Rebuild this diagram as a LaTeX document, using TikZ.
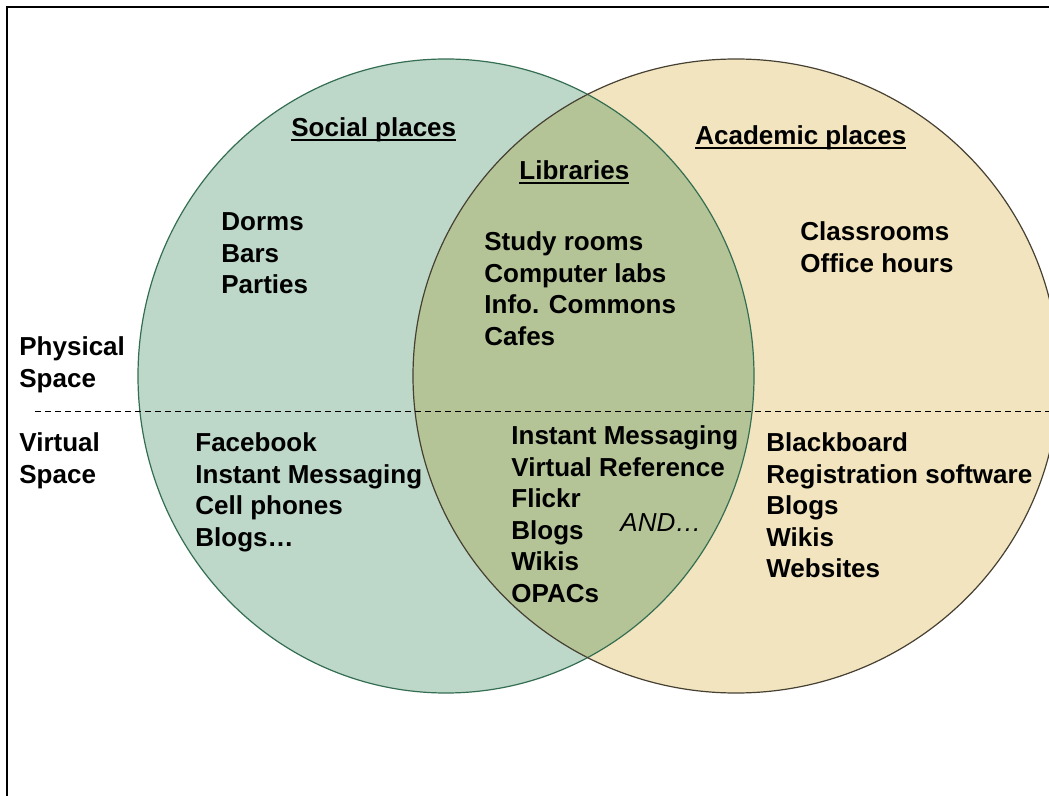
\documentclass[tikz,border=0pt]{standalone}
\usepackage{fontspec}
\setmainfont{Liberation Sans}
\usepackage{tikz}

\definecolor{socialfill}{RGB}{189,215,201}
\definecolor{socialline}{RGB}{52,110,82}
\definecolor{acadfill}{RGB}{241,228,191}
\definecolor{acadline}{RGB}{70,64,50}
\definecolor{libfill}{RGB}{180,196,151}

\newsavebox\ulsave
\newcommand{\ulbox}[1]{\sbox\ulsave{#1}\rlap{\rule[-2.3pt]{\wd\ulsave}{1pt}}\usebox\ulsave}

\begin{document}
\begin{tikzpicture}[x=0.5pt, y=-0.5pt,
    txt/.style={anchor=north west, inner sep=0pt, align=left, font=\fontsize{13}{15.75}\selectfont\bfseries}]
  \path[use as bounding box, clip] (0,0) rectangle (1049,796);
  \draw[line width=1pt] (7,820)--(7,7)--(1070,7);
  % the two places
  \fill[socialfill] (446,376) ellipse [x radius=154pt, y radius=158.5pt];
  \fill[acadfill] (736,376) ellipse [x radius=161.5pt, y radius=158.5pt];
  \begin{scope}
    \clip (446,376) ellipse [x radius=154pt, y radius=158.5pt];
    \fill[libfill] (736,376) ellipse [x radius=161.5pt, y radius=158.5pt];
  \end{scope}
  \draw[socialline, line width=0.6pt] (446,376) ellipse [x radius=154pt, y radius=158.5pt];
  \draw[acadline, line width=0.6pt] (736,376) ellipse [x radius=161.5pt, y radius=158.5pt];
  \draw[dash pattern=on 3pt off 2pt, line width=0.5pt] (35,412)--(1049,412);
  % headings
  \node[txt] (social) at (291,117.5) {\ulbox{Social places}};
  \node[txt] (libs) at (519,160.5) {\ulbox{Libraries}};
  \node[txt] (acad) at (695,125.5) {\ulbox{Academic places}};
  % physical space
  \node[txt] (phys) at (19,336.5) {Physical\\Space};
  \node[txt] (socphys) at (221,212.5) {Dorms\\Bars\\Parties};
  \node[txt] (libphys) at (484,231.5) {Study rooms\\Computer labs\\Info. Commons\\Cafes};
  \node[txt] (acadphys) at (800,221.5) {Classrooms\\Office hours};
  % virtual space
  \node[txt] (virt) at (19,432.5) {Virtual\\Space};
  \node[txt] (socvirt) at (195,432.5) {Facebook\\Instant Messaging\\Cell phones\\Blogs…};
  \node[txt] (libvirt) at (511,425.5) {Instant Messaging\\Virtual Reference\\Flickr\\Blogs\\Wikis\\OPACs};
  \node[txt, font=\fontsize{13}{15.75}\selectfont\itshape] (andmore) at (620,513.5) {AND…};
  \node[txt] (acadvirt) at (766,432.5) {Blackboard\\Registration software\\Blogs\\Wikis\\Websites};
\end{tikzpicture}
\end{document}
